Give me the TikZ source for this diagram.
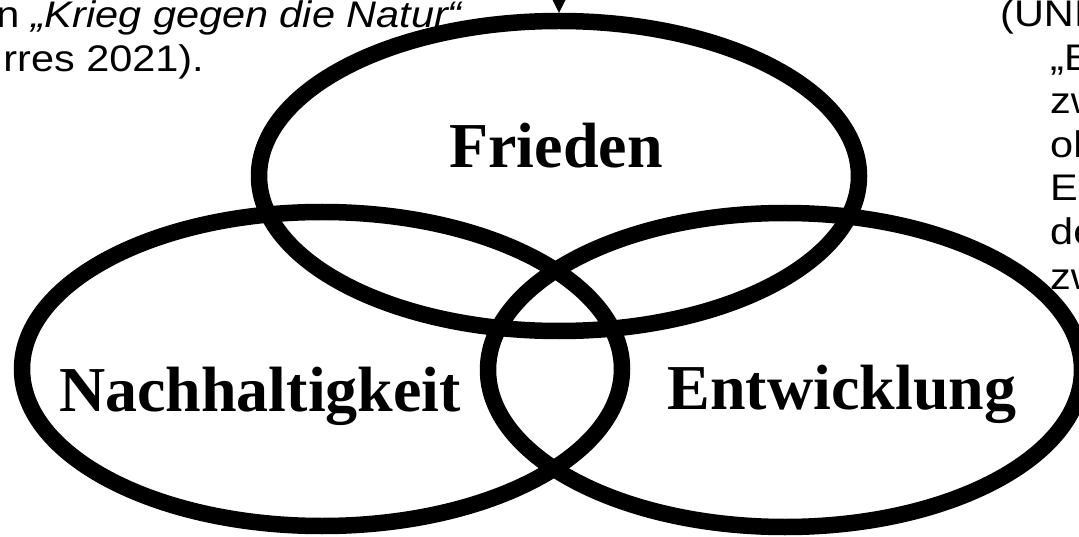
\documentclass[tikz,border=0pt]{standalone}
\usepackage{fontspec}
\setmainfont{Liberation Serif}
\newfontfamily\sansf{Liberation Sans}
\usetikzlibrary{shapes.geometric,arrows.meta}
\begin{document}
\begin{tikzpicture}[x=1pt,y=-1pt,
  venn/.style={ellipse, draw=black, line width=16.5pt, minimum width=600pt, minimum height=312pt, inner sep=0pt},
  vlabel/.style={font=\fontsize{64}{70}\selectfont\bfseries, inner sep=0pt, anchor=base},
  side/.style={font=\sansf\fontsize{37}{44}\selectfont, inner sep=0pt}]
\clip (0,0) rectangle (1079,537);
\fill[white] (0,0) rectangle (1079,537);
% side texts
\node[side, anchor=base east] (l1) at (462,28) {\scalebox{1.12}[1]{n \itshape „Krieg gegen die Natur“}};
\node[side, anchor=base east] (l2) at (204,72) {\scalebox{1.12}[1]{rres 2021).}};
\node[side, anchor=base west] (r1) at (1000,27) {\scalebox{1.12}[1]{(UNI}};
\node[side, anchor=base west] (r2) at (1050,71) {\scalebox{1.12}[1]{„E}};
\node[side, anchor=base west] (r3) at (1050,114) {\scalebox{1.12}[1]{zw}};
\node[side, anchor=base west] (r4) at (1050,158) {\scalebox{1.12}[1]{oh}};
\node[side, anchor=base west] (r5) at (1050,201) {\scalebox{1.12}[1]{Es}};
\node[side, anchor=base west] (r6) at (1050,245) {\scalebox{1.12}[1]{de}};
\node[side, anchor=base west] (r7) at (1050,290) {\scalebox{1.12}[1]{zw}};
% ellipses
\node[venn, minimum height=310pt] (fr) at (559,176) {};
\node[venn, minimum height=314pt] (na) at (322,369) {};
\node[venn, minimum height=314pt, minimum width=594pt] (en) at (785,370) {};
% labels
\node[vlabel] (tfr) at (556,168) {Frieden};
\node[vlabel] (tna) at (260,411) {Nachhaltigkeit};
\node[vlabel] (ten) at (842,409) {Entwicklung};
% arrow into Frieden
\coordinate (src) at (559,-40);
\draw[line width=1pt, -{Triangle[width=13pt,length=13pt]}] (src) -- (fr.north);
\end{tikzpicture}
\end{document}
